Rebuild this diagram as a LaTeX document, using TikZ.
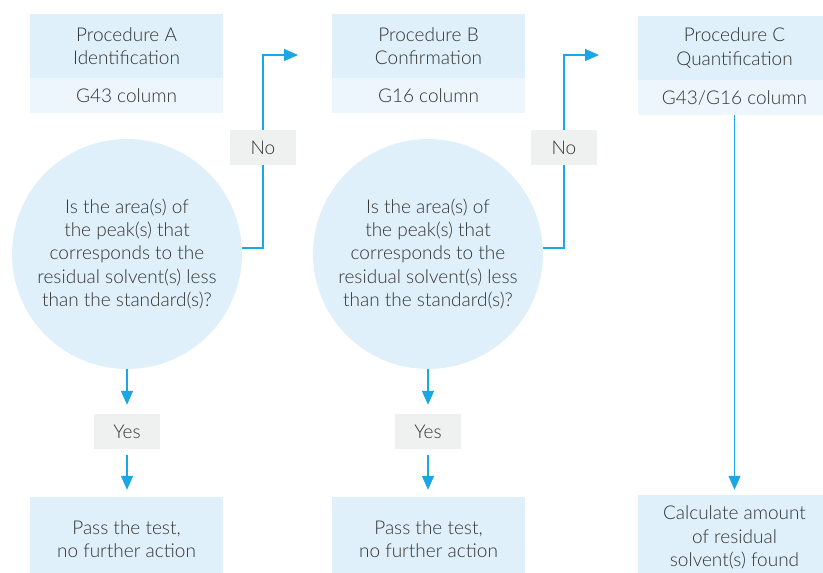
\documentclass[tikz,border=0pt]{standalone}
\usepackage{fontspec}
\setmainfont{Lato}[UprightFont=* Light]
\usetikzlibrary{arrows.meta}
\definecolor{boxtop}{HTML}{DFF0FA}
\definecolor{boxlow}{HTML}{EDF6FD}
\definecolor{circ}{HTML}{E0F0FA}
\definecolor{lbl}{HTML}{EFF1F1}
\definecolor{arr}{HTML}{1BA6E4}
\definecolor{txt}{HTML}{333333}
\begin{document}
\begin{tikzpicture}[x=1pt,y=-1pt,
  every node/.style={font=\fontsize{19}{23.3}\selectfont, text=txt, inner sep=0pt, align=center},
  head/.style={fill=boxtop, minimum width=193pt, minimum height=64pt},
  sub/.style={fill=boxlow, minimum width=193pt, minimum height=35pt},
  endbox/.style={fill=boxtop, minimum width=193pt, minimum height=85pt},
  question/.style={circle, fill=circ, minimum size=230pt},
  tag/.style={fill=lbl, minimum width=66pt, minimum height=35pt},
  link/.style={draw=arr, line width=1.4pt, -{Triangle[length=14pt,width=12pt]}},
  plain/.style={draw=arr, line width=1.4pt}]
\clip (0,0) rectangle (823,573);
% top boxes
\node[head] (hA) at (126.5,46) {Procedure A\\Identification};
\node[sub]  (sA) at (126.5,95.5) {G43 column};
\node[head] (hB) at (428.5,46) {Procedure B\\Confirmation};
\node[sub]  (sB) at (428.5,95.5) {G16 column};
\node[head] (hC) at (734.5,48) {Procedure C\\Quantification};
\node[sub]  (sC) at (734.5,97.5) {G43/G16 column};
% questions
\node[question] (cA) at (127,254) {Is the area(s) of\\the peak(s) that\\corresponds to the\\residual solvent(s) less\\than the standard(s)?};
\node[question] (cB) at (428,254) {Is the area(s) of\\the peak(s) that\\corresponds to the\\residual solvent(s) less\\than the standard(s)?};
% labels
\node[tag] (noA) at (263,147.5) {No};
\node[tag] (noB) at (564,147.5) {No};
\node[tag] (yesA) at (127,431.5) {Yes};
\node[tag] (yesB) at (428,431.5) {Yes};
% bottom boxes
\node[endbox] (eA) at (126.5,539.5) {Pass the test,\\no further action};
\node[endbox] (eB) at (428.5,539.5) {Pass the test,\\no further action};
\node[endbox] (eC) at (734.5,537.5) {Calculate amount\\of residual\\solvent(s) found};
% connectors
\coordinate (inB) at (298,55);
\coordinate (inC) at (599,55);
\draw[plain] (cA.3.5) -| (noA.south);
\draw[link] (noA.north) |- (inB);
\draw[plain] (cB.3.5) -| (noB.south);
\draw[link] (noB.north) |- (inC);
\draw[link, shorten >=9pt] (cA.south) -- (yesA.north);
\draw[link, shorten <=6pt, shorten >=7pt] (yesA.south) -- (yesA.south |- eA.north);
\draw[link, shorten >=9pt] (cB.south) -- (yesB.north);
\draw[link, shorten <=6pt, shorten >=7pt] (yesB.south) -- (yesB.south |- eB.north);
\draw[link, shorten >=5pt] (sC.south) -- (sC.south |- eC.north);
\end{tikzpicture}
\end{document}
